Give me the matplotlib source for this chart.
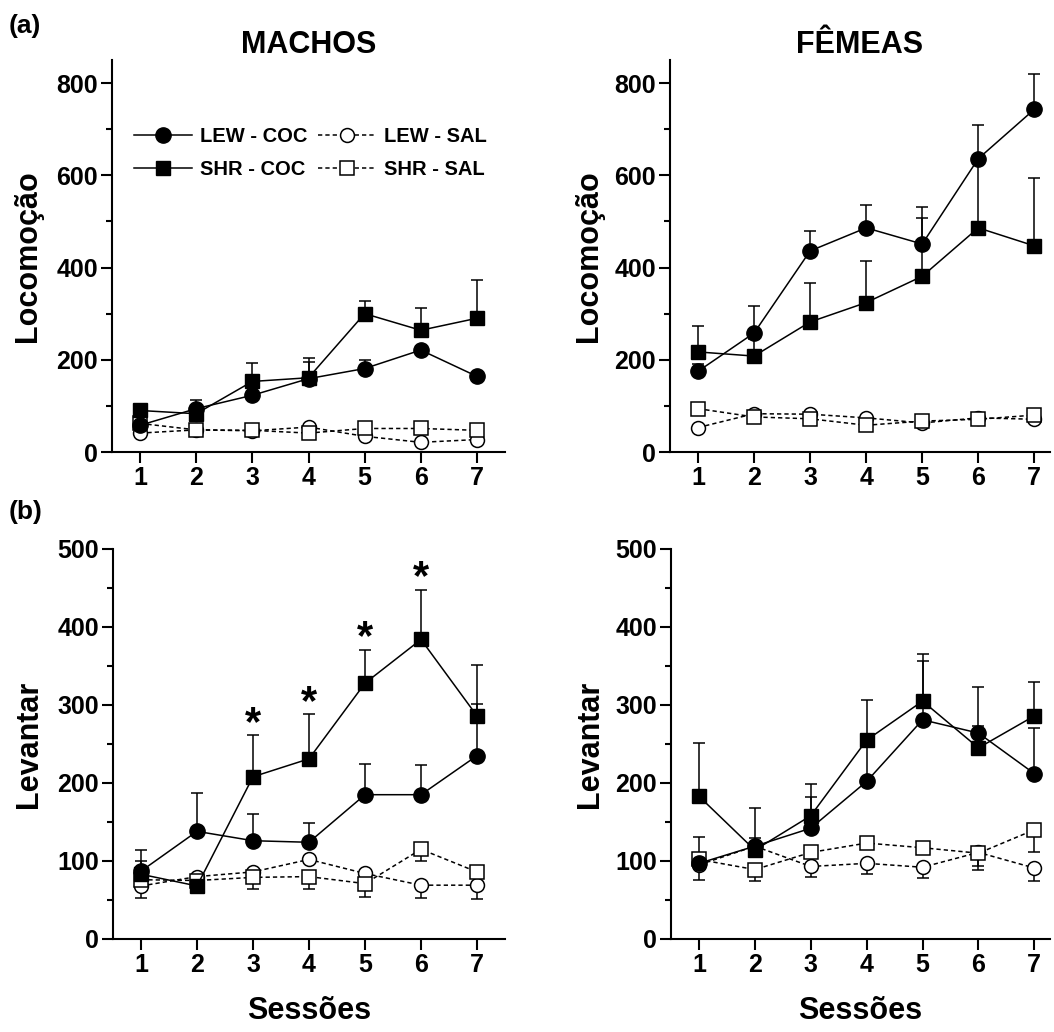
import numpy as np
import matplotlib
matplotlib.use("Agg")
import matplotlib.pyplot as plt
from matplotlib.ticker import MultipleLocator

plt.rcParams['font.family'] = ['Liberation Sans', 'DejaVu Sans']
plt.rcParams['font.weight'] = 'bold'
plt.rcParams['axes.labelweight'] = 'bold'

sessions = [1, 2, 3, 4, 5, 6, 7]
labels = ["LEW - COC", "SHR - COC", "LEW - SAL", "SHR - SAL"]

# Locomocao - machos
loc_m_lew_coc = [58, 94, 123, 159, 181, 221, 164]
loc_m_lew_coc_sem = [8, 18, 15, 36, 18, 8, 8]
loc_m_shr_coc = [90, 83, 153, 161, 300, 264, 290]
loc_m_shr_coc_sem = [8, 10, 39, 42, 28, 49, 83]
loc_m_lew_sal = [41, 48, 46, 54, 34, 21, 27]
loc_m_lew_sal_sem = [5, 5, 5, 5, 5, 5, 5]
loc_m_shr_sal = [62, 48, 47, 41, 51, 51, 47]
loc_m_shr_sal_sem = [5, 5, 5, 5, 5, 5, 5]

# Locomocao - femeas
loc_f_lew_coc = [175, 258, 436, 486, 451, 636, 743]
loc_f_lew_coc_sem = [15, 58, 43, 50, 81, 73, 77]
loc_f_shr_coc = [217, 208, 282, 324, 381, 486, 447]
loc_f_shr_coc_sem = [56, 38, 84, 91, 127, 140, 147]
loc_f_lew_sal = [53, 83, 82, 74, 63, 74, 71]
loc_f_lew_sal_sem = [5, 5, 5, 5, 5, 5, 5]
loc_f_shr_sal = [94, 76, 72, 58, 67, 71, 80]
loc_f_shr_sal_sem = [5, 5, 5, 5, 5, 5, 5]

# Levantar - machos
lev_m_lew_coc = [87, 138, 126, 124, 185, 185, 235]
lev_m_lew_coc_sem = [27, 49, 34, 25, 40, 38, 66]
lev_m_shr_coc = [83, 68, 208, 231, 328, 384, 286]
lev_m_shr_coc_sem = [17, 5, 53, 57, 43, 64, 65]
lev_m_lew_sal = [68, 80, 86, 102, 84, 69, 69]
lev_m_lew_sal_sem = [16, 5, 5, 5, 13, 17, 18]
lev_m_shr_sal = [76, 75, 79, 80, 71, 115, 86]
lev_m_shr_sal_sem = [5, 8, 15, 16, 17, 15, 5]
lev_m_signif = [3, 4, 5, 6]

# Levantar - femeas
lev_f_lew_coc = [97, 119, 142, 202, 281, 264, 212]
lev_f_lew_coc_sem = [34, 49, 40, 45, 75, 9, 58]
lev_f_shr_coc = [183, 114, 158, 255, 305, 245, 286]
lev_f_shr_coc_sem = [68, 15, 41, 51, 61, 78, 43]
lev_f_lew_sal = [95, 119, 93, 97, 92, 111, 91]
lev_f_lew_sal_sem = [19, 5, 13, 14, 14, 23, 16]
lev_f_shr_sal = [102, 89, 111, 123, 117, 110, 140]
lev_f_shr_sal_sem = [5, 14, 5, 5, 5, 17, 28]

W, H = 1054, 1032
fig = plt.figure(figsize=(W / 100, H / 100), dpi=100)

def px(l, b, r, t):
    return [l / W, 1 - b / H, (r - l) / W, (b - t) / H]

ax_tl = fig.add_axes(px(112, 452, 505, 60))
ax_tr = fig.add_axes(px(670, 452, 1050, 60))
ax_bl = fig.add_axes(px(113, 939, 505, 549))
ax_br = fig.add_axes(px(671, 939, 1050, 549))

dash = (0, (2.8, 2))
lw = 1.1
ms = 11

def ebar(ax, x, y, sem, up):
    # one-sided error bars (up for cocaine, down for saline)
    y = np.array(y, float)
    end = y + np.array(sem) if up else y - np.array(sem)
    ax.vlines(x, y, end, color='black', lw=lw, zorder=2)
    ax.plot(x, end, ls='none', marker='_', ms=9, mew=lw, color='black', zorder=2)

def draw(ax, lc, lcs, sc, scs, ls, lss, ss, sss):
    x = np.array(sessions)
    ebar(ax, x, lc, lcs, True)
    ebar(ax, x, sc, scs, True)
    ebar(ax, x, ls, lss, False)
    ebar(ax, x, ss, sss, False)
    h1, = ax.plot(x, lc, '-', color='black', lw=lw, marker='o', ms=ms, mfc='black', mec='black', zorder=4)
    h2, = ax.plot(x, sc, '-', color='black', lw=lw, marker='s', ms=ms - 1, mfc='black', mec='black', zorder=4)
    h3, = ax.plot(x, ls, linestyle=dash, color='black', lw=lw, marker='o', ms=ms - 1, mfc='white', mec='black', mew=lw, zorder=3)
    h4, = ax.plot(x, ss, linestyle=dash, color='black', lw=lw, marker='s', ms=ms - 1.5, mfc='white', mec='black', mew=lw, zorder=3)
    return [h1, h2, h3, h4]

def style(ax, top, major, minor, right):
    ax.set_xlim(0.5, right)
    ax.set_ylim(0, top)
    ax.set_xticks(sessions)
    ax.yaxis.set_major_locator(MultipleLocator(major))
    ax.yaxis.set_minor_locator(MultipleLocator(minor))
    for s in ['top', 'right']:
        ax.spines[s].set_visible(False)
    for s in ['left', 'bottom']:
        ax.spines[s].set_linewidth(1.5)
    ax.tick_params(axis='both', which='major', length=8, width=1.5, labelsize=18, pad=2)
    ax.tick_params(axis='y', which='minor', length=4.5, width=1.5)
    ax.tick_params(axis='x', which='minor', length=0)
    for t in ax.get_xticklabels() + ax.get_yticklabels():
        t.set_fontweight('bold')

handles = draw(ax_tl, loc_m_lew_coc, loc_m_lew_coc_sem, loc_m_shr_coc, loc_m_shr_coc_sem,
               loc_m_lew_sal, loc_m_lew_sal_sem, loc_m_shr_sal, loc_m_shr_sal_sem)
draw(ax_tr, loc_f_lew_coc, loc_f_lew_coc_sem, loc_f_shr_coc, loc_f_shr_coc_sem,
     loc_f_lew_sal, loc_f_lew_sal_sem, loc_f_shr_sal, loc_f_shr_sal_sem)
draw(ax_bl, lev_m_lew_coc, lev_m_lew_coc_sem, lev_m_shr_coc, lev_m_shr_coc_sem,
     lev_m_lew_sal, lev_m_lew_sal_sem, lev_m_shr_sal, lev_m_shr_sal_sem)
draw(ax_br, lev_f_lew_coc, lev_f_lew_coc_sem, lev_f_shr_coc, lev_f_shr_coc_sem,
     lev_f_lew_sal, lev_f_lew_sal_sem, lev_f_shr_sal, lev_f_shr_sal_sem)

style(ax_tl, 850, 200, 100, 7.5)
style(ax_tr, 850, 200, 100, 7.28)
style(ax_bl, 500, 100, 50, 7.5)
style(ax_br, 500, 100, 50, 7.28)

for ax in (ax_tl, ax_tr):
    ax.set_ylabel("Locomoção", fontsize=22)
for ax in (ax_bl, ax_br):
    ax.set_ylabel("Levantar", fontsize=22)
    ax.set_xlabel("Sessões", fontsize=22, labelpad=14)

for ax in (ax_tl, ax_tr, ax_bl, ax_br):
    ax.yaxis.set_label_coords(-0.175, 0.5)

ax_tl.set_title("MACHOS", fontsize=22, fontweight='bold', pad=4)
ax_tr.set_title("FÊMEAS", fontsize=22, fontweight='bold', pad=4)

# significance stars
for s in lev_m_signif:
    i = sessions.index(s)
    top = lev_m_shr_coc[i] + lev_m_shr_coc_sem[i]
    ax_bl.annotate("*", xy=(s, top), xytext=(0, -6), textcoords='offset points',
                   ha='center', va='bottom', fontsize=30, fontweight='bold')

ax_tl.legend(handles, labels, ncol=2, frameon=False,
             loc='upper left', bbox_to_anchor=(0.055, 0.83), borderaxespad=0, borderpad=0,
             handlelength=2.9, handletextpad=0.4, columnspacing=0.5, labelspacing=0.7,
             prop={'weight': 'bold', 'size': 14.5})

fig.text(0.008, 0.986, "(a)", fontsize=19, fontweight='bold', va='top', ha='left')
fig.text(0.008, 1 - 500 / H, "(b)", fontsize=19, fontweight='bold', va='top', ha='left')

fig.savefig("out.png", dpi=100)
